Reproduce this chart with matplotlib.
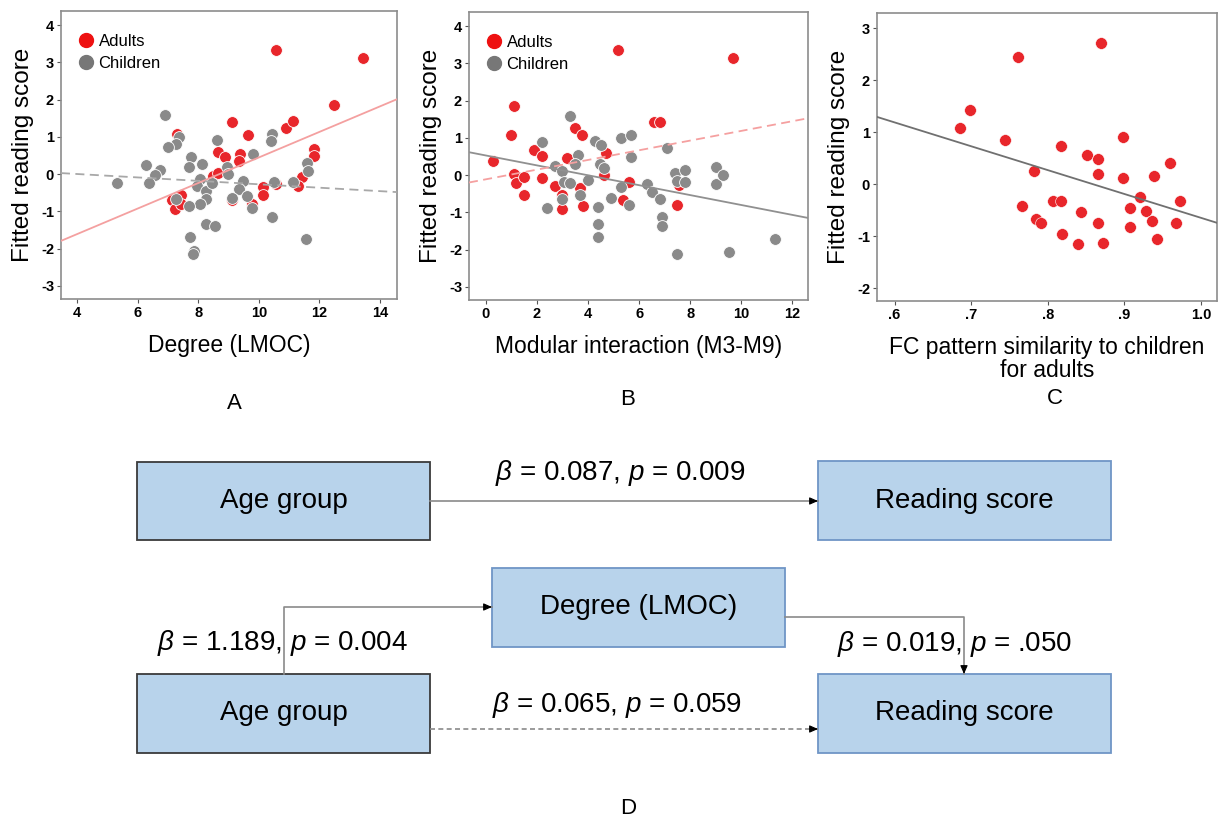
import numpy as np
import matplotlib.pyplot as plt
from matplotlib.patches import Rectangle
from matplotlib.lines import Line2D

plt.rcParams['font.family'] = ['Liberation Sans', 'DejaVu Sans']
plt.rcParams['mathtext.fontset'] = 'custom'
plt.rcParams['mathtext.it'] = 'Liberation Sans:italic'
plt.rcParams['mathtext.rm'] = 'Liberation Sans'
plt.rcParams['axes.unicode_minus'] = False

# panel A: degree (LMOC) vs fitted reading score
a_adult_x = [10.56, 13.43, 12.49, 9.13, 10.89, 11.13, 9.64, 7.31, 8.66, 8.89, 9.37, 9.35, 11.82, 11.82,
             8.48, 8.65, 11.44, 11.30, 10.56, 10.13, 10.15, 7.44, 7.23, 7.13, 7.23, 7.42, 9.13, 9.76]
a_adult_y = [3.34, 3.13, 1.87, 1.41, 1.25, 1.42, 1.06, 1.09, 0.59, 0.45, 0.53, 0.36, 0.68, 0.49,
             -0.06, 0.02, -0.07, -0.31, -0.26, -0.35, -0.55, -0.56, -0.68, -0.68, -0.93, -0.80, -0.68, -0.80]
a_child_x = [6.89, 7.36, 7.25, 7.01, 6.27, 6.75, 6.56, 6.39, 5.32, 7.77, 7.70, 8.12, 8.07, 7.96,
             8.25, 8.45, 8.25, 8.07, 7.68, 7.26, 8.63, 8.95, 8.98, 9.47, 9.33, 9.60, 9.12, 9.76,
             9.81, 10.45, 10.40, 10.50, 10.42, 11.13, 11.59, 11.61, 11.56, 8.24, 8.55, 7.72, 7.86, 7.82]
a_child_y = [1.60, 0.99, 0.81, 0.72, 0.24, 0.12, -0.02, -0.24, -0.24, 0.46, 0.20, 0.28, -0.13, -0.32,
             -0.45, -0.23, -0.66, -0.81, -0.86, -0.67, 0.92, 0.20, 0.01, -0.17, -0.40, -0.58, -0.65, -0.90,
             0.53, 1.08, 0.88, -0.20, -1.15, -0.20, 0.31, 0.09, -1.75, -1.34, -1.38, -1.69, -2.06, -2.13]
a_fit_adult = (0.343, -2.98)     # slope, intercept
a_fit_child = (-0.046, 0.19)

# panel B: modular interaction (M3-M9) vs fitted reading score
b_adult_x = [5.19, 9.69, 1.10, 1.00, 0.30, 1.10, 1.19, 1.50, 1.50, 1.90, 2.20, 2.20, 2.69, 3.00,
             3.00, 3.18, 3.50, 3.78, 3.69, 3.79, 4.70, 4.62, 5.61, 5.38, 6.57, 6.81, 7.50, 7.56]
b_adult_y = [3.35, 3.14, 1.87, 1.07, 0.38, 0.02, -0.20, -0.04, -0.54, 0.67, 0.52, -0.07, -0.30, -0.52,
             -0.92, 0.47, 1.26, 1.08, -0.34, -0.83, 0.59, 0.00, -0.18, -0.66, 1.43, 1.43, -0.79, -0.26]
b_child_x = [3.30, 2.20, 4.29, 4.51, 5.30, 5.70, 7.08, 3.60, 3.48, 2.69, 3.00, 3.05, 3.30, 3.99,
             3.70, 3.00, 2.39, 4.47, 4.62, 5.70, 5.30, 4.89, 4.40, 4.40, 4.40, 5.60, 6.30, 6.49,
             6.81, 6.91, 6.91, 7.40, 7.50, 7.80, 7.80, 7.50, 8.99, 8.99, 9.29, 9.50, 11.31]
b_child_y = [1.60, 0.89, 0.93, 0.82, 1.00, 1.09, 0.74, 0.55, 0.29, 0.26, 0.10, -0.17, -0.22, -0.12,
             -0.54, -0.65, -0.88, 0.31, 0.19, 0.48, -0.32, -0.60, -0.85, -1.31, -1.67, -0.79, -0.24, -0.44,
             -0.65, -1.11, -1.36, 0.05, -0.15, 0.14, -0.18, -2.11, 0.22, -0.24, 0.00, -2.05, -1.72]
b_fit_adult = (0.130, -0.11)
b_fit_child = (-0.133, 0.53)

# panel C: FC pattern similarity to children, adults only
c_x = [0.869, 0.761, 0.699, 0.686, 0.744, 0.817, 0.898, 0.851, 0.865, 0.960, 0.782, 0.866, 0.898, 0.939,
       0.920, 0.972, 0.766, 0.807, 0.817, 0.843, 0.907, 0.928, 0.785, 0.791, 0.866, 0.936, 0.967, 0.907,
       0.819, 0.942, 0.839, 0.872]
c_y = [2.72, 2.44, 1.42, 1.07, 0.84, 0.73, 0.91, 0.55, 0.48, 0.41, 0.26, 0.19, 0.12, 0.16,
       -0.24, -0.32, -0.42, -0.33, -0.32, -0.53, -0.46, -0.51, -0.67, -0.74, -0.74, -0.72, -0.74, -0.83,
       -0.96, -1.06, -1.15, -1.14]
c_fit = (-4.59, 3.94)

RED = '#e8262b'
GREY = '#8a8a8a'

fig = plt.figure(figsize=(12.19, 8.24), dpi=100)


def style(ax, xticks, xlabels, yticks):
    for s in ax.spines.values():
        s.set_color('#8c8c8c')
        s.set_linewidth(1.2)
    ax.set_xticks(xticks)
    ax.set_xticklabels(xlabels, fontweight='bold')
    ax.set_yticks(yticks)
    ax.set_yticklabels([str(t) for t in yticks], fontweight='bold')
    ax.tick_params(direction='out', length=3, width=0.8, color='#555555', labelsize=10.5, pad=2)
    ax.set_ylabel('Fitted reading score', fontsize=17.5, labelpad=5)


def fitline(ax, fit, **kw):
    xs = np.array(ax.get_xlim())
    ax.plot(xs, fit[0] * xs + fit[1], zorder=4, **kw)


def legend(ax):
    h = [Line2D([], [], ls='none', marker='o', ms=10, color='#ee1111', label='Adults'),
         Line2D([], [], ls='none', marker='o', ms=10, color='#777777', label='Children')]
    ax.legend(handles=h, loc='upper left', frameon=False, fontsize=12, handletextpad=0.25,
              handlelength=1.0, borderaxespad=0.3, labelspacing=0.38, bbox_to_anchor=(0.015, 0.96))


# A
axA = fig.add_axes([0.050, 0.6371, 0.2757, 0.3495])
axA.scatter(a_adult_x, a_adult_y, s=72, color=RED, edgecolor='white', linewidth=0.6, zorder=2)
axA.scatter(a_child_x, a_child_y, s=72, color=GREY, edgecolor='white', linewidth=0.6, zorder=3)
axA.set_xlim(3.47, 14.56)
axA.set_ylim(-3.35, 4.38)
fitline(axA, a_fit_adult, color='#f4a0a0', lw=1.3)
fitline(axA, a_fit_child, color='#a8a8a8', lw=1.3, ls=(0, (5, 3)))
style(axA, [4, 6, 8, 10, 12, 14], ['4', '6', '8', '10', '12', '14'], [-3, -2, -1, 0, 1, 2, 3, 4])
axA.set_xlabel('Degree (LMOC)', fontsize=16.5, labelpad=10)
legend(axA)

# B
axB = fig.add_axes([0.3847, 0.6359, 0.278, 0.3495])
axB.scatter(b_adult_x, b_adult_y, s=72, color=RED, edgecolor='white', linewidth=0.6, zorder=2)
axB.scatter(b_child_x, b_child_y, s=72, color=GREY, edgecolor='white', linewidth=0.6, zorder=3)
axB.set_xlim(-0.66, 12.6)
axB.set_ylim(-3.35, 4.38)
fitline(axB, b_fit_child, color='#909090', lw=1.3)
fitline(axB, b_fit_adult, color='#f5a0a0', lw=1.3, ls=(0, (5, 3)))
style(axB, [0, 2, 4, 6, 8, 10, 12], ['0', '2', '4', '6', '8', '10', '12'], [-3, -2, -1, 0, 1, 2, 3, 4])
axB.set_xlabel('Modular interaction (M3-M9)', fontsize=16.5, labelpad=10)
legend(axB)

# C
axC = fig.add_axes([0.7194, 0.6347, 0.2790, 0.3495])
axC.scatter(c_x, c_y, s=72, color=RED, edgecolor='white', linewidth=0.4, zorder=2)
axC.set_xlim(0.577, 1.021)
axC.set_ylim(-2.25, 3.29)
fitline(axC, c_fit, color='#707070', lw=1.3)
style(axC, [0.6, 0.7, 0.8, 0.9, 1.0], ['.6', '.7', '.8', '.9', '1.0'], [-2, -1, 0, 1, 2, 3])
axC.set_xlabel('FC pattern similarity to children\nfor adults', fontsize=16.5, labelpad=10,
               linespacing=1.0)

# D: path diagram, drawn in pixel coordinates
axD = fig.add_axes([0, 0, 1, 1], facecolor='none')
axD.set_xlim(0, 1219)
axD.set_ylim(824, 0)
axD.axis('off')

for x, y, t in [(234, 403, 'A'), (628, 399, 'B'), (1055, 398, 'C'), (628, 808, 'D')]:
    axD.text(x, y, t, fontsize=16, ha='center', va='center')

BOX = '#b8d3eb'
boxes = [(137, 462, 293, 78, 'Age group', '#3a3a3a'),
         (818, 461, 293, 79, 'Reading score', '#6f95c6'),
         (492, 568, 293, 79, 'Degree (LMOC)', '#6f95c6'),
         (137, 674, 293, 79, 'Age group', '#3a3a3a'),
         (818, 674, 293, 79, 'Reading score', '#6f95c6')]
for x, y, w, h, t, ec in boxes:
    axD.add_patch(Rectangle((x, y), w, h, facecolor=BOX, edgecolor=ec, lw=1.3))
    axD.text(x + w / 2, y + h / 2, t, fontsize=20, ha='center', va='center')


def path(pts, ls='-'):
    xs = [p[0] for p in pts]
    ys = [p[1] for p in pts]
    axD.plot(xs, ys, color='#8a8a8a', lw=1.2, ls=ls)
    end, prev = pts[-1], pts[-2]
    d = np.array(end, float) - np.array(prev, float)
    d = d / np.hypot(*d) * 8
    axD.annotate('', xy=end, xytext=(end[0] - d[0], end[1] - d[1]),
                 arrowprops=dict(arrowstyle='-|>,head_length=0.5,head_width=0.22',
                                 color='black', lw=0.8, shrinkA=0, shrinkB=0))


path([(430, 501), (818, 501)])
path([(284, 674), (284, 607), (492, 607)])
path([(785, 617), (964, 617), (964, 674)])
path([(430, 729), (818, 729)], ls=(0, (3, 2)))

labels = [(620, 473, r'$\beta$ = 0.087, $p$ = 0.009'),
          (282, 643, r'$\beta$ = 1.189, $p$ = 0.004'),
          (955, 644, r'$\beta$ = 0.019, $p$ = .050'),
          (617, 705, r'$\beta$ = 0.065, $p$ = 0.059')]
for x, y, t in labels:
    axD.text(x, y, t, fontsize=20, ha='center', va='center')

fig.savefig('out.png', dpi=100)
